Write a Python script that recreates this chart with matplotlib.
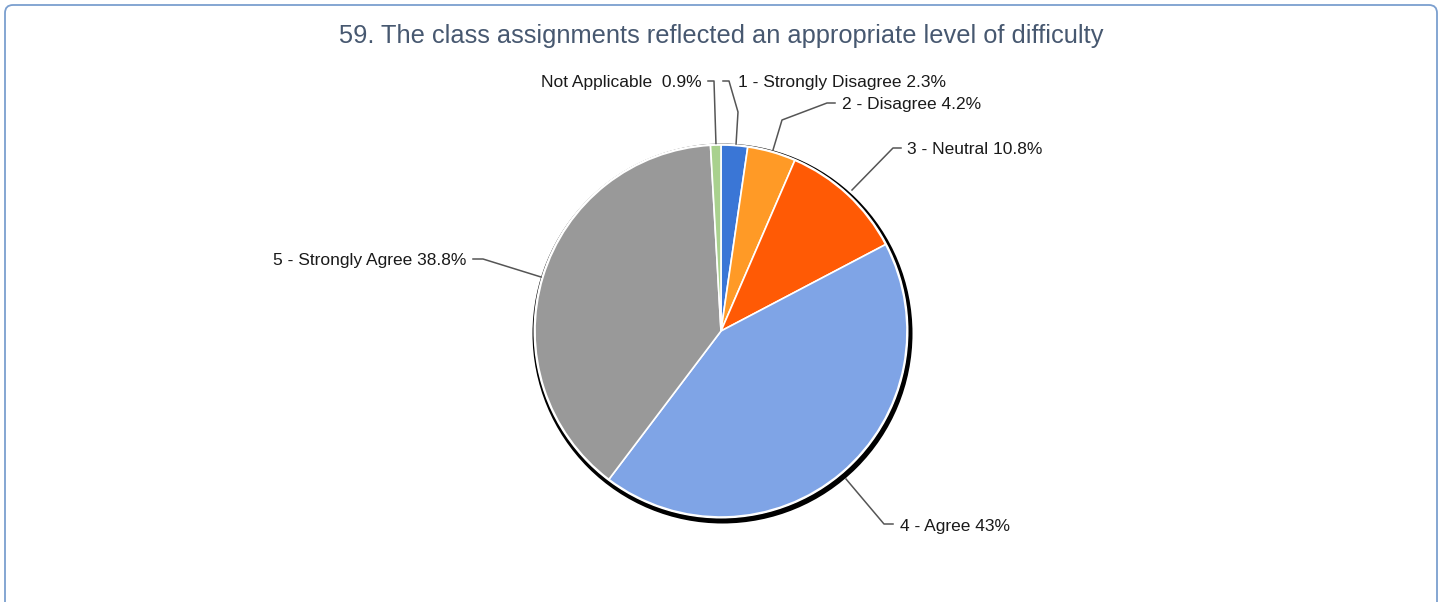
import matplotlib
matplotlib.use("Agg")
import matplotlib.pyplot as plt
from matplotlib.patches import Circle, FancyBboxPatch

plt.rcParams["font.family"] = ["Liberation Sans", "DejaVu Sans"]

W, H = 1442, 602

TITLE = "59. The class assignments reflected an appropriate level of difficulty"
labels = ["1 - Strongly Disagree", "2 - Disagree", "3 - Neutral", "4 - Agree",
          "5 - Strongly Agree", "Not Applicable "]
values = [2.3, 4.2, 10.8, 43, 38.8, 0.9]
pct_text = ["2.3%", "4.2%", "10.8%", "43%", "38.8%", "0.9%"]
colors = ["#3a76d6", "#ff9a26", "#ff5a05", "#7fa4e6", "#999999", "#a9d18e"]

# label anchor (screen px) and leader polyline for each slice
label_pos = [(738, 82, "left"), (842, 104, "left"), (907, 149, "left"),
             (900, 527, "left"), (466, 261, "right"), (702, 82, "right")]
leaders = [
    [(723, 81), (729, 81), (738, 112), (736, 145)],
    [(835, 103), (827, 103), (782, 120), (773, 150)],
    [(901, 148), (893, 148), (852, 190)],
    [(893, 524), (884, 524), (846, 479)],
    [(473, 259), (483, 259), (541, 277)],
    [(708, 81), (714, 81), (716, 145)],
]

fig = plt.figure(figsize=(W / 100, H / 100), dpi=100)
ax = fig.add_axes([0, 0, 1, 1])
ax.set_xlim(0, W)
ax.set_ylim(H, 0)
ax.axis("off")

# outer frame
ax.add_patch(FancyBboxPatch((5, 5), W - 10, H + 20, boxstyle="round,pad=0,rounding_size=8",
                            fc="white", ec="#7b9fcf", lw=1.3, zorder=0))

ax.text(W / 2, 36, TITLE, ha="center", va="center", fontsize=18.3, color="#475870")

# shadow ring behind the pie
ax.add_patch(Circle((722.5, 333.5), 190, fc="black", ec="none", zorder=1))
ax.add_patch(Circle((721, 331), 187.5, fc="white", ec="none", zorder=1.5))

# pie drawn in its own axes so the angles go clockwise from the top
cx, cy, r = 721, 331, 186
pax = fig.add_axes([(cx - r) / W, 1 - (cy + r) / H, 2 * r / W, 2 * r / H])
pax.pie(values, colors=colors, startangle=90, counterclock=False,
        wedgeprops=dict(edgecolor="white", linewidth=1.2))
pax.set_xlim(-1, 1)
pax.set_ylim(-1, 1)
pax.set_aspect("auto")
pax.axis("off")

for lab, pct, (x, y, ha), pts in zip(labels, pct_text, label_pos, leaders):
    ax.text(x, y, f"{lab} {pct}", ha=ha, va="center", fontsize=12.5, color="#1a1a1a")
    xs, ys = zip(*pts)
    ax.plot(xs, ys, color="#555555", lw=1.1)

fig.savefig("out.png", dpi=100)
